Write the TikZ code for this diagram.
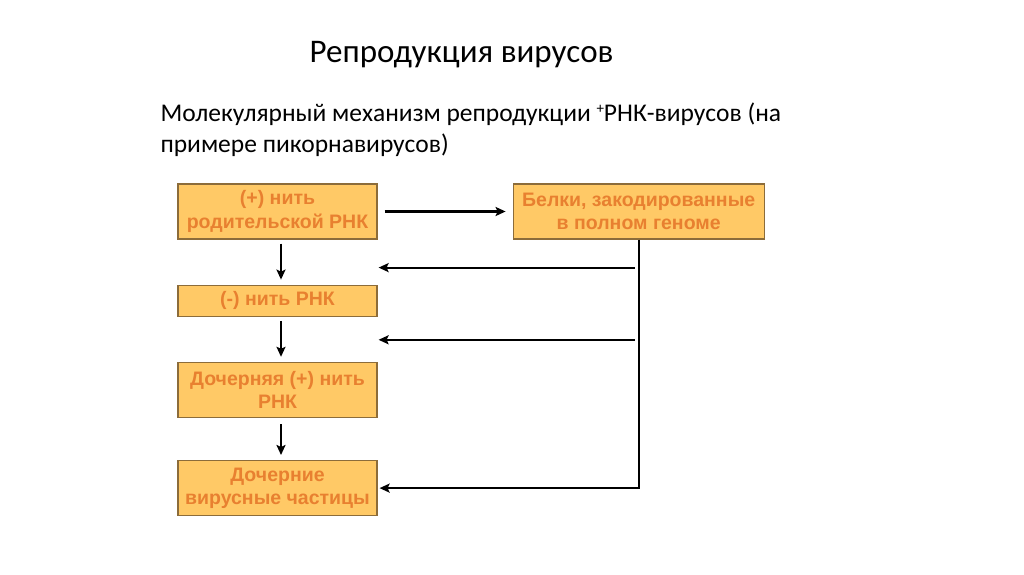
\documentclass[tikz,border=0pt]{standalone}
\usepackage{fontspec}
\setmainfont{Carlito}
\newfontfamily\boxfont{Liberation Sans}
\usetikzlibrary{arrows.meta,positioning,calc}
\definecolor{boxfill}{RGB}{255,201,102}
\definecolor{boxline}{RGB}{140,108,58}
\definecolor{boxtext}{RGB}{232,128,48}
\tikzset{
    stage/.style={
        rectangle,
        draw=boxline,
        fill=boxfill,
        line width=1.2pt,
        minimum width=199pt,
        minimum height=55pt,
        align=center,
        inner sep=2pt,
        text=boxtext,
        font=\boxfont\bfseries\fontsize{19.5}{23.5}\selectfont,
    },
    flow/.style={
        draw,
        -{Stealth[length=10pt,width=9pt,inset=2pt]},
        line width=2.2pt,
    },
    node distance=45pt,
}
\begin{document}
\begin{tikzpicture}[x=1pt,y=-1pt]
    \useasboundingbox[fill=white] (0,0) rectangle (1024,574);
    \node [anchor=base west,font=\fontsize{33}{40}\selectfont] (title) at (306,62) {Репродукция вирусов};
    \node [anchor=base west,align=left,font=\fontsize{25.5}{30.5}\selectfont] (sub) at (157,152)
        {Молекулярный механизм репродукции \raisebox{0.3em}{\fontsize{15}{15}\selectfont+}РНК-вирусов (на\\примере пикорнавирусов)};
    \node [stage] (parent) at (277.5,211.5) {(+) нить\\родительской РНК};
    \node [stage,right=135pt of parent,minimum width=251pt] (proteins) {Белки, закодированные\\в полном геноме};
    \node [stage,below=of parent,minimum height=31pt] (minus) {(-) нить РНК};
    \node [stage,below=of minus] (daughter) {Дочерняя (+) нить\\РНК};
    \node [stage,below=42pt of daughter] (virions) {Дочерние\\вирусные частицы};
    \coordinate (in1) at ([yshift=-28pt,xshift=1pt]parent.south east);
    \coordinate (in2) at ([yshift=-23pt,xshift=1pt]minus.south east);
    \coordinate (corner) at (proteins.south |- virions.east);
    \draw [flow] ([xshift=7pt]parent.east) -- ([xshift=-7pt]proteins.west);
    \draw [flow] ([xshift=3.5pt,yshift=-4pt]parent.south) -- ([xshift=3.5pt,yshift=5pt]minus.north);
    \draw [flow] ([xshift=3.5pt,yshift=-4pt]minus.south) -- ([xshift=3.5pt,yshift=5pt]daughter.north);
    \draw [flow] ([xshift=3.5pt,yshift=-6pt]daughter.south) -- ([xshift=3.5pt,yshift=5pt]virions.north);
    \draw [flow] (proteins.south) -- (corner) -- ([xshift=2pt]virions.east);
    \draw [flow] (proteins.south |- in1) ++(-4pt,0) -- (in1);
    \draw [flow] (proteins.south |- in2) ++(-4pt,0) -- (in2);
\end{tikzpicture}
\end{document}
